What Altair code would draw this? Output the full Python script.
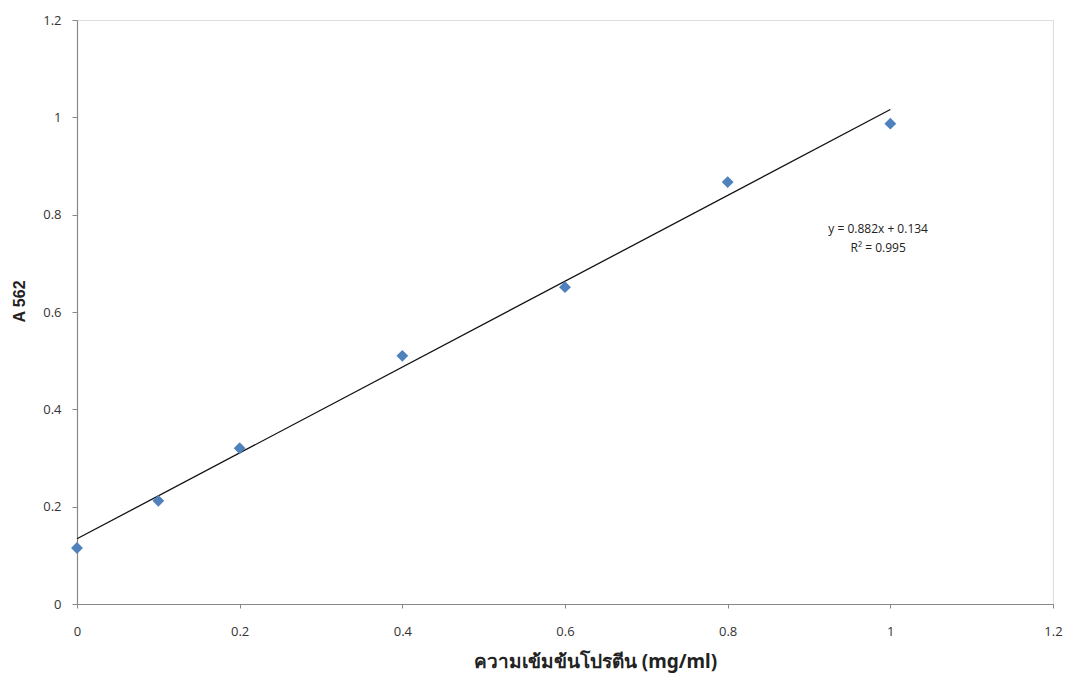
import altair as alt
import pandas as pd

conc = [0, 0.1, 0.2, 0.4, 0.6, 0.8, 1.0]
absorb = [0.115, 0.212, 0.32, 0.51, 0.651, 0.867, 0.987]

trend_x = [0, 1.0]
trend_y = [0.134, 1.016]

eq_lines = ["y = 0.882x + 0.134", "R² = 0.995"]
eq_x = [0.985, 0.985]
eq_y = [0.771, 0.731]

pts = pd.DataFrame({"x": conc, "y": absorb})
trend = pd.DataFrame({"x": trend_x, "y": trend_y})
eq = pd.DataFrame({"x": eq_x, "y": eq_y, "t": eq_lines})

xs = alt.Scale(domain=[0, 1.2], nice=False, zero=False)
ys = alt.Scale(domain=[0, 1.2], nice=False, zero=False)

xaxis = alt.Axis(
    title="ความเข้มข้นโปรตีน (mg/ml)",
    values=[0, 0.2, 0.4, 0.6, 0.8, 1.0, 1.2],
    format="~g",
    grid=False, labelFlush=False,
    labelFont="Open Sans", labelFontSize=13, labelColor="#333333",
    labelPadding=17, tickSize=4, tickColor="#888888",
    domainColor="#888888", domainWidth=1.2,
    titleFont="Noto Sans", titleFontSize=19, titleFontWeight="bold",
    titleColor="#222222", titlePadding=14, titleX=518,
)
yaxis = alt.Axis(
    title="A 562",
    values=[0, 0.2, 0.4, 0.6, 0.8, 1.0, 1.2],
    format="~g",
    grid=False, labelFlush=False,
    labelFont="Open Sans", labelFontSize=13, labelColor="#333333",
    labelPadding=11, tickSize=5, tickColor="#888888",
    domainColor="#888888", domainWidth=1.2,
    titleFont="Liberation Sans", titleFontSize=16, titleFontWeight="bold",
    titleColor="#222222", titlePadding=15, titleY=281,
)

points = alt.Chart(pts).mark_point(
    shape="diamond", filled=True, size=140, color="#4F81BD", opacity=1
).encode(
    x=alt.X("x:Q", scale=xs, axis=xaxis),
    y=alt.Y("y:Q", scale=ys, axis=yaxis),
)

line = alt.Chart(trend).mark_line(color="#111111", strokeWidth=1.3).encode(
    x=alt.X("x:Q", scale=xs),
    y=alt.Y("y:Q", scale=ys),
)

text = alt.Chart(eq).mark_text(
    font="Open Sans", fontSize=12, color="#222222", align="center", baseline="middle"
).encode(
    x=alt.X("x:Q", scale=xs),
    y=alt.Y("y:Q", scale=ys),
    text="t:N",
)

chart = alt.layer(line, points, text).properties(
    width=976, height=584,
    autosize=alt.AutoSizeParams(type="none"),
    padding={"left": 69, "top": 12, "right": 11, "bottom": 69},
).configure_view(stroke=None).configure(background="white")

chart.save("out.html", embed_options={"renderer": "svg", "actions": False})
